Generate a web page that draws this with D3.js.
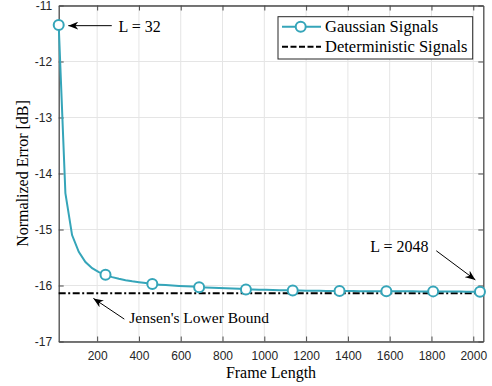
<!DOCTYPE html>
<html>
<head>
<meta charset="utf-8">
<script src="https://cdn.jsdelivr.net/npm/d3@7"></script>
<style>
  body { margin: 0; background: #fff; }
  .tick text { font-family: "Liberation Sans", Arial, sans-serif; font-size: 12px; fill: #262626; }
  .serif { font-family: "Liberation Serif", "Times New Roman", serif; fill: #000; }
</style>
</head>
<body>
<div id="chart"></div>
<script>
// frame length samples (markers every 7th sample)
let frameLength = [16, 48, 80, 112, 144, 176, 208, 240, 272, 304, 336, 368, 400, 432, 464, 496,
  528, 560, 592, 624, 656, 688, 720, 752, 784, 816, 848, 880, 912, 944, 976, 1008,
  1040, 1072, 1104, 1136, 1168, 1200, 1232, 1264, 1296, 1328, 1360, 1392, 1424, 1456, 1488, 1520,
  1552, 1584, 1616, 1648, 1680, 1712, 1744, 1776, 1808, 1840, 1872, 1904, 1936, 1968, 2000, 2032];

let gaussianError = [-11.35, -14.35, -15.10, -15.40, -15.58, -15.69, -15.76, -15.81, -15.85, -15.88,
  -15.905, -15.925, -15.94, -15.955, -15.975, -15.985, -15.993, -16.0, -16.008, -16.015,
  -16.02, -16.03, -16.035, -16.04, -16.045, -16.05, -16.055, -16.06, -16.07, -16.073,
  -16.075, -16.078, -16.08, -16.083, -16.085, -16.09, -16.091, -16.092, -16.093, -16.095,
  -16.096, -16.097, -16.10, -16.10, -16.10, -16.101, -16.101, -16.102, -16.102, -16.102,
  -16.103, -16.103, -16.104, -16.104, -16.105, -16.105, -16.105, -16.106, -16.107, -16.108,
  -16.109, -16.11, -16.11, -16.112];

let jensenBound = -16.14;

let xTicks = [200, 400, 600, 800, 1000, 1200, 1400, 1600, 1800, 2000];
let yTicks = [-17, -16, -15, -14, -13, -12, -11];

let legendLabels = ["Gaussian Signals", "Deterministic Signals"];

let svgWidth = 492;
let svgHeight = 386;

let margin = { top: 5.5, right: 8.7, bottom: 44.5, left: 58.7 };
let width = svgWidth - margin.left - margin.right;
let height = svgHeight - margin.top - margin.bottom;

let teal = "#35a5b9";
let axisColor = "#4a4a4a";

let svg = d3.select("#chart").append("svg")
  .attr("width", svgWidth)
  .attr("height", svgHeight);

let defs = svg.append("defs");
defs.append("marker")
  .attr("id", "head")
  .attr("viewBox", "0 0 10 8")
  .attr("refX", 10).attr("refY", 4)
  .attr("markerWidth", 10).attr("markerHeight", 8)
  .attr("markerUnits", "userSpaceOnUse")
  .attr("orient", "auto")
  .append("path")
  .attr("d", "M0,0 L10,4 L0,8 L3,4 Z")
  .attr("fill", "#000");

let chartGroup = svg.append("g")
  .attr("transform", `translate(${margin.left}, ${margin.top})`);

let x = d3.scaleLinear().domain([16, 2048]).range([0, width]);
let y = d3.scaleLinear().domain([-17, -11]).range([height, 0]);

// grid
chartGroup.append("g")
  .selectAll("line.gx")
  .data(xTicks)
  .enter().append("line")
  .attr("x1", d => x(d)).attr("x2", d => x(d))
  .attr("y1", 0).attr("y2", height)
  .attr("stroke", "#e5e5e5").attr("stroke-width", 1);

chartGroup.append("g")
  .selectAll("line.gy")
  .data(yTicks)
  .enter().append("line")
  .attr("x1", 0).attr("x2", width)
  .attr("y1", d => y(d)).attr("y2", d => y(d))
  .attr("stroke", "#e5e5e5").attr("stroke-width", 1);

// axes
let bottomAxis = d3.axisBottom(x).tickValues(xTicks).tickSizeInner(-5).tickSizeOuter(0).tickPadding(10)
  .tickFormat(d3.format("d"));
let leftAxis = d3.axisLeft(y).tickValues(yTicks).tickSizeInner(-5).tickSizeOuter(0).tickPadding(6.5)
  .tickFormat(d => String(d));
let topAxis = d3.axisTop(x).tickValues(xTicks).tickSizeInner(-5).tickSizeOuter(0).tickFormat("");
let rightAxis = d3.axisRight(y).tickValues(yTicks).tickSizeInner(-5).tickSizeOuter(0).tickFormat("");

function styleAxis(g) {
  g.select(".domain").attr("stroke", axisColor).attr("stroke-width", 1.3);
  g.selectAll(".tick line").attr("stroke", axisColor);
}

chartGroup.append("g").attr("transform", `translate(0,${height})`).call(bottomAxis).call(styleAxis);
chartGroup.append("g").call(leftAxis).call(styleAxis);
chartGroup.append("g").call(topAxis).call(styleAxis);
chartGroup.append("g").attr("transform", `translate(${width},0)`).call(rightAxis).call(styleAxis);

chartGroup.selectAll(".tick text").attr("font-family", null).attr("font-size", null);

// deterministic / Jensen bound line
chartGroup.append("line")
  .attr("x1", x(16)).attr("x2", x(2048))
  .attr("y1", y(jensenBound)).attr("y2", y(jensenBound))
  .attr("stroke", "#000").attr("stroke-width", 2)
  .attr("stroke-dasharray", "7,2.5,2,2.5");

// gaussian curve
let series = frameLength.map((d, i) => ({ x: d, y: gaussianError[i] }));
let line = d3.line().x(d => x(d.x)).y(d => y(d.y));

chartGroup.append("path")
  .datum(series)
  .attr("d", line)
  .attr("fill", "none")
  .attr("stroke", teal)
  .attr("stroke-width", 2);

chartGroup.selectAll("circle.mk")
  .data(series.filter((d, i) => i % 7 === 0))
  .enter().append("circle")
  .attr("cx", d => x(d.x))
  .attr("cy", d => y(d.y))
  .attr("r", 5)
  .attr("fill", "#fff")
  .attr("stroke", teal)
  .attr("stroke-width", 2);

// annotations
let annotations = [
  { text: "L = 32", tx: 302, ty: -11.47, anchor: "start", x1: 270, y1: -11.36, x2: 62, y2: -11.36 },
  { text: "L = 2048", tx: 1786, ty: -15.396, anchor: "end", x1: 1823, y1: -15.38, x2: 2010, y2: -15.90 },
  { text: "Jensen's Lower Bound", tx: 354, ty: -16.675, anchor: "start", x1: 330, y1: -16.60, x2: 182, y2: -16.23 }
];

annotations.forEach(function(a) {
  chartGroup.append("line")
    .attr("x1", x(a.x1)).attr("y1", y(a.y1))
    .attr("x2", x(a.x2)).attr("y2", y(a.y2))
    .attr("stroke", "#000").attr("stroke-width", 1)
    .attr("marker-end", "url(#head)");
  chartGroup.append("text")
    .attr("class", "serif")
    .attr("x", x(a.tx)).attr("y", y(a.ty))
    .attr("text-anchor", a.anchor)
    .attr("font-size", a.text.length > 10 ? "15.5px" : "16px")
    .text(a.text);
});

// legend
let legend = chartGroup.append("g")
  .attr("transform", `translate(${width - 205.3}, 11.2)`);

legend.append("rect")
  .attr("width", 194.7).attr("height", 42.3)
  .attr("fill", "#fff")
  .attr("stroke", "#262626").attr("stroke-width", 1);

legend.append("line")
  .attr("x1", 4).attr("x2", 43).attr("y1", 10).attr("y2", 10)
  .attr("stroke", teal).attr("stroke-width", 2);
legend.append("circle")
  .attr("cx", 22.7).attr("cy", 10).attr("r", 5)
  .attr("fill", "#fff").attr("stroke", teal).attr("stroke-width", 2);
legend.append("line")
  .attr("x1", 4).attr("x2", 43).attr("y1", 30).attr("y2", 30)
  .attr("stroke", "#000").attr("stroke-width", 2)
  .attr("stroke-dasharray", "6,2.5");

legend.selectAll("text.lg")
  .data(legendLabels)
  .enter().append("text")
  .attr("class", "serif")
  .attr("x", 47)
  .attr("y", (d, i) => 15.5 + i * 20)
  .attr("font-size", "16.5px")
  .text(d => d);

// axis labels
svg.append("text")
  .attr("class", "serif")
  .attr("x", margin.left + width / 2)
  .attr("y", 378)
  .attr("text-anchor", "middle")
  .attr("font-size", "16px")
  .text("Frame Length");

svg.append("text")
  .attr("class", "serif")
  .attr("transform", `translate(27.5, ${margin.top + height / 2}) rotate(-90)`)
  .attr("text-anchor", "middle")
  .attr("font-size", "16px")
  .text("Normalized Error [dB]");
</script>
</body>
</html>
